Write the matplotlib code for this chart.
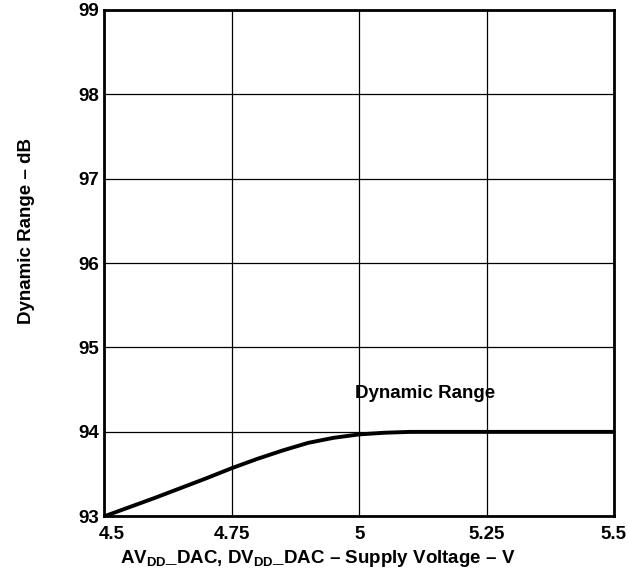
import matplotlib
matplotlib.use("Agg")
import matplotlib.pyplot as plt
from matplotlib.transforms import ScaledTranslation

plt.rcParams['font.family'] = ['Liberation Sans', 'DejaVu Sans']
plt.rcParams['font.weight'] = 'bold'
plt.rcParams['mathtext.fontset'] = 'custom'
plt.rcParams['mathtext.rm'] = 'Liberation Sans:bold'
plt.rcParams['mathtext.bf'] = 'Liberation Sans:bold'

# supply voltage (V) vs dynamic range (dB)
voltage = [4.5, 4.6, 4.7, 4.75, 4.8, 4.85, 4.9, 4.95, 5.0, 5.05, 5.1, 5.25, 5.5]
dyn_range = [93.0, 93.22, 93.45, 93.57, 93.68, 93.78, 93.87, 93.93, 93.97, 93.99, 94.0, 94.0, 94.0]

x_ticks = [4.5, 4.75, 5, 5.25, 5.5]
x_labels = ['4.5', '4.75', '5', '5.25', '5.5']
y_ticks = [93, 94, 95, 96, 97, 98, 99]

fs = 13.5

fig = plt.figure(figsize=(6.29, 5.86), dpi=100)
ax = fig.add_axes([0.166, 0.119, 0.81, 0.864])

ax.plot(voltage, dyn_range, color='black', lw=2.8, solid_capstyle='round')
ax.set_xlim(4.5, 5.5)
ax.set_ylim(93, 99)
ax.set_xticks(x_ticks)
ax.set_xticklabels(x_labels)
ax.set_yticks(y_ticks)
ax.grid(True, color='black', lw=0.9)
ax.tick_params(length=0, labelsize=fs, pad=4)
ax.tick_params(axis='x', pad=7)
for s in ax.spines.values():
    s.set_linewidth(2)

# first x label sits a bit to the right to clear the 93
lbl = ax.get_xticklabels()[0]
lbl.set_transform(lbl.get_transform() + ScaledTranslation(0.07, 0, fig.dpi_scale_trans))

ax.text(5.13, 94.45, 'Dynamic Range', ha='center', va='center', fontsize=fs, fontweight='bold')

ax.set_xlabel(r'AV$_{\mathrm{DD}}$_DAC, DV$_{\mathrm{DD}}$_DAC – Supply Voltage – V',
              fontsize=fs, fontweight='bold')
ax.set_ylabel('Dynamic Range – dB', fontsize=fs, fontweight='bold', labelpad=31)
ax.xaxis.set_label_coords(0.418, -0.062)
ax.yaxis.label.set_y(0.563)

fig.savefig('out.png', dpi=100)
plt.close()
